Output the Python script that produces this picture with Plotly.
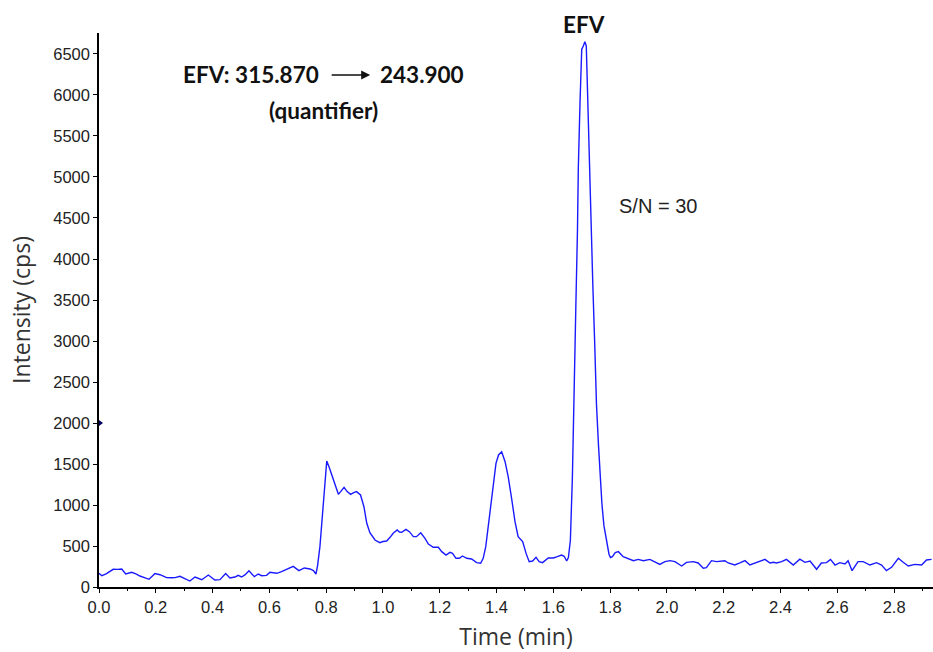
import plotly.graph_objects as go

# Chromatogram (time in min, intensity in cps)
time_min = [
    0.000, 0.010, 0.025, 0.040, 0.050, 0.065, 0.080, 0.094, 0.105, 0.115,
    0.130, 0.144, 0.160, 0.176, 0.190, 0.197, 0.215, 0.238, 0.255, 0.268,
    0.285, 0.303, 0.320, 0.338, 0.350, 0.362, 0.385, 0.408, 0.426, 0.446,
    0.461, 0.479, 0.490, 0.502, 0.515, 0.528, 0.547, 0.561, 0.573, 0.590,
    0.602, 0.615, 0.626, 0.643, 0.661, 0.684, 0.704, 0.723, 0.743, 0.755,
    0.764, 0.770, 0.778, 0.784, 0.790, 0.796, 0.802, 0.810, 0.825, 0.843,
    0.851, 0.863, 0.874, 0.886, 0.897, 0.907, 0.921, 0.933, 0.943, 0.954,
    0.972, 0.989, 1.000, 1.013, 1.025, 1.036, 1.050, 1.058, 1.066, 1.074,
    1.081, 1.093, 1.107, 1.118, 1.133, 1.148, 1.160, 1.177, 1.195, 1.207,
    1.222, 1.236, 1.245, 1.257, 1.269, 1.280, 1.295, 1.312, 1.330, 1.344,
    1.353, 1.362, 1.371, 1.379, 1.389, 1.398, 1.407, 1.418, 1.430, 1.441,
    1.453, 1.465, 1.476, 1.492, 1.504, 1.515, 1.527, 1.539, 1.550, 1.562,
    1.582, 1.600, 1.614, 1.629, 1.638, 1.647, 1.653, 1.660, 1.667, 1.673,
    1.679, 1.685, 1.688, 1.694, 1.700, 1.706, 1.711, 1.716, 1.720, 1.727,
    1.733, 1.739, 1.746, 1.752, 1.759, 1.765, 1.771, 1.778, 1.784, 1.790,
    1.796, 1.801, 1.808, 1.818, 1.829, 1.846, 1.864, 1.882, 1.899, 1.917,
    1.940, 1.958, 1.975, 1.993, 2.011, 2.028, 2.052, 2.069, 2.093, 2.110,
    2.128, 2.139, 2.157, 2.175, 2.204, 2.216, 2.239, 2.257, 2.275, 2.292,
    2.316, 2.345, 2.363, 2.375, 2.386, 2.404, 2.421, 2.445, 2.468, 2.486,
    2.504, 2.527, 2.544, 2.562, 2.576, 2.592, 2.609, 2.627, 2.638, 2.652,
    2.673, 2.691, 2.715, 2.738, 2.756, 2.773, 2.791, 2.815, 2.832, 2.850,
    2.873, 2.897, 2.914, 2.932,
]
intensity_cps = [
    167, 138, 160, 200, 216, 215, 220, 158, 165, 179,
    160, 134, 115, 94, 140, 163, 150, 114, 112, 114,
    130, 101, 73, 122, 105, 89, 146, 85, 90, 163,
    110, 122, 142, 122, 150, 199, 126, 158, 138, 142,
    179, 175, 167, 187, 220, 252, 199, 232, 220, 200,
    158, 268, 492, 756, 1061, 1366, 1535, 1467, 1305, 1130,
    1163, 1215, 1163, 1130, 1150, 1163, 1122, 979, 777, 662,
    573, 540, 555, 561, 606, 655, 695, 670, 667, 690,
    703, 675, 614, 614, 662, 594, 524, 484, 484, 431,
    390, 423, 410, 350, 350, 378, 350, 342, 297, 289,
    350, 492, 756, 1020, 1305, 1508, 1610, 1650, 1528, 1345,
    1082, 797, 614, 553, 410, 309, 317, 362, 309, 297,
    354, 354, 370, 390, 375, 317, 360, 570, 1330, 2175,
    3378, 4357, 5114, 5915, 6560, 6600, 6650, 6600, 6049, 5381,
    4491, 3690, 2933, 2220, 1730, 1330, 1018, 751, 617, 480,
    400, 360, 370, 420, 431, 370, 350, 321, 337, 321,
    337, 309, 276, 309, 321, 309, 256, 301, 309, 293,
    228, 236, 321, 309, 321, 293, 268, 293, 321, 268,
    301, 337, 293, 301, 293, 309, 337, 268, 340, 301,
    317, 216, 293, 297, 337, 268, 297, 280, 321, 199,
    309, 309, 268, 297, 268, 199, 240, 350, 301, 256,
    276, 268, 329, 337,
]

# small axis marker on the intensity axis
marker_time = [0.0]
marker_intensity = [2000]

x_tick_vals = [0.0, 0.2, 0.4, 0.6, 0.8, 1.0, 1.2, 1.4, 1.6, 1.8, 2.0, 2.2, 2.4, 2.6, 2.8]
y_tick_vals = [0, 500, 1000, 1500, 2000, 2500, 3000, 3500, 4000, 4500, 5000, 5500, 6000, 6500]

tick_font = dict(family="Liberation Sans, Arial, sans-serif", size=16.5, color="#222222")
title_font = dict(family="Open Sans, Noto Sans, sans-serif", size=23, color="#333333")
bold_font = dict(family="Lato, Open Sans, sans-serif", size=22.5, color="#111111", weight="bold")

fig = go.Figure()
fig.add_trace(go.Scatter(
    x=time_min, y=intensity_cps, mode="lines",
    line=dict(color="#1a1aff", width=1.4), showlegend=False, hoverinfo="skip",
))
fig.add_trace(go.Scatter(
    x=marker_time, y=marker_intensity, mode="markers",
    marker=dict(symbol="triangle-right", size=8, color="#000060"),
    cliponaxis=False, showlegend=False, hoverinfo="skip",
))

fig.update_layout(
    width=933, height=652,
    margin=dict(l=99, r=0, t=33, b=65),
    paper_bgcolor="white", plot_bgcolor="white",
    xaxis=dict(
        range=[0, 2.937], tickvals=x_tick_vals, tickformat=".1f", automargin=False,
        showgrid=False, zeroline=False, showline=True, linecolor="black", linewidth=1.5,
        ticks="outside", ticklen=4, tickcolor="black", tickwidth=1,
        minor=dict(ticks="outside", ticklen=2, dtick=0.1, tickcolor="black", showgrid=False),
        tickfont=tick_font,
        title=dict(text="Time (min)", font=title_font, standoff=20),
    ),
    yaxis=dict(
        range=[0, 6756], tickvals=y_tick_vals, automargin=False,
        showgrid=False, zeroline=False, showline=True, linecolor="black", linewidth=1.5,
        ticks="outside", ticklen=4, tickcolor="black", tickwidth=1,
        tickfont=tick_font,
        title=dict(text="Intensity (cps)", font=title_font, standoff=16),
    ),
)

fig.add_annotation(x=0.782, y=6244, xref="x", yref="y", text="EFV: 315.870",
                   showarrow=False, xanchor="right", yanchor="middle", font=bold_font)
fig.add_annotation(x=0.955, y=6244, ax=0.814, ay=6244, xref="x", yref="y",
                   axref="x", ayref="y", text="", showarrow=True,
                   arrowhead=2, arrowsize=1.2, arrowwidth=1.5, arrowcolor="#111111")
fig.add_annotation(x=0.982, y=6244, xref="x", yref="y", text="243.900",
                   showarrow=False, xanchor="left", yanchor="middle", font=bold_font)
fig.add_annotation(x=0.790, y=5817, xref="x", yref="y", text="(quantifier)",
                   showarrow=False, xanchor="center", yanchor="middle", font=bold_font)
fig.add_annotation(x=1.708, y=1.0153, xref="x", yref="paper", text="EFV",
                   showarrow=False, xanchor="center", yanchor="middle", font=bold_font)
fig.add_annotation(x=1.968, y=4646, xref="x", yref="y", text="S/N = 30",
                   showarrow=False, xanchor="center", yanchor="middle",
                   font=dict(family="Liberation Sans, Arial, sans-serif", size=20, color="#222222"))

fig.write_html("out.html", config={"displayModeBar": False},
               post_script="document.body.style.margin='0';")
